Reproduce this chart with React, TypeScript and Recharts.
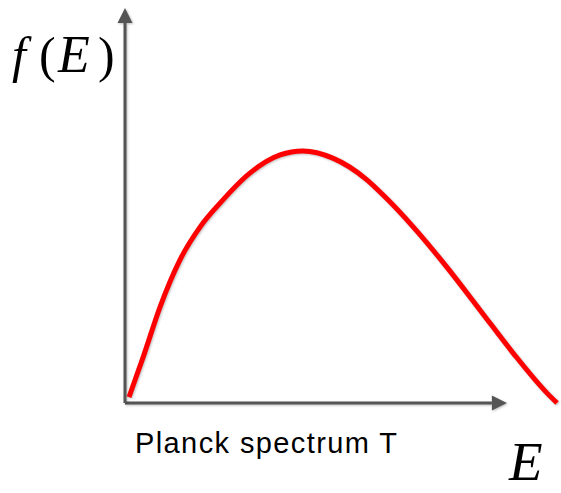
import React from "react";
import { LineChart, Line, XAxis, YAxis, ReferenceLine, Customized } from "recharts";

const energy = [0.93, 4.2, 8.1, 12.7, 17.4, 22.0, 28.9, 35.9, 41.2, 48.1, 56.0, 59.7, 66.7, 74.5, 82.2, 89.8, 97.7, 100];
const flux = [1.5, 11.6, 24.3, 36.2, 44.6, 50.6, 58.2, 62.8, 63.8, 62.0, 56.5, 52.7, 44.6, 34.4, 23.5, 12.7, 2.5, 0];
const xAxisEnd = 88.4;
const yAxisEnd = 100;
const yLabel = "f(E)";
const xLabel = "E";
const caption = "Planck spectrum T";

const data = energy.map((e, i) => ({ e, f: flux[i] }));

const AXIS_COLOR = "#555555";

const Arrow = (props: any) => {
  const { x1, y1, x2, y2 } = props;
  const dx = x2 - x1;
  const dy = y2 - y1;
  const len = Math.sqrt(dx * dx + dy * dy) || 1;
  const ux = dx / len;
  const uy = dy / len;
  const head = 15;
  const half = 7.5;
  const bx = x2 - ux * head;
  const by = y2 - uy * head;
  const px = -uy;
  const py = ux;
  return (
    <g style={{ filter: "drop-shadow(1px 1px 1px rgba(0,0,0,0.25))" }}>
      <line x1={x1} y1={y1} x2={bx} y2={by} stroke={AXIS_COLOR} strokeWidth={3} />
      <polygon
        points={`${x2},${y2} ${bx + px * half},${by + py * half} ${bx - px * half},${by - py * half}`}
        fill={AXIS_COLOR}
      />
    </g>
  );
};

const Labels = () => (
  <g>
    <text
      y={72}
      fontFamily="'Liberation Serif', serif"
      fontSize={50}
      fill="#000"
    >
      <tspan x={12} fontStyle="italic">{yLabel[0]}</tspan>
      <tspan x={39}>{yLabel[1]}</tspan>
      <tspan x={58} fontStyle="italic" fontSize={52}>{yLabel[2]}</tspan>
      <tspan x={98}>{yLabel[3]}</tspan>
    </text>
    <text
      x={509}
      y={480}
      fontFamily="'Liberation Serif', serif"
      fontStyle="italic"
      fontSize={55}
      fill="#000"
    >
      {xLabel}
    </text>
    <text
      x={135}
      y={453}
      fontFamily="'Liberation Sans', Arial, sans-serif"
      fontSize={29}
      fill="#000"
      textLength={262}
      lengthAdjust="spacing"
    >
      {caption}
    </text>
  </g>
);

export default function App() {
  return (
    <div style={{ position: "absolute", left: 0, top: 0, width: 561, height: 493, background: "#fff" }}>
      <LineChart width={561} height={493} data={data} margin={{ top: 8, right: 4, bottom: 90, left: 125 }}>
        <XAxis dataKey="e" type="number" domain={[0, 100]} hide />
        <YAxis type="number" domain={[0, 100]} hide />
        <ReferenceLine
          segment={[{ x: 0, y: 0 }, { x: xAxisEnd, y: 0 }]}
          shape={Arrow}
          ifOverflow="visible"
        />
        <ReferenceLine
          segment={[{ x: 0, y: 0 }, { x: 0, y: yAxisEnd }]}
          shape={Arrow}
          ifOverflow="visible"
        />
        <Line
          dataKey="f"
          type="monotone"
          stroke="#ff0000"
          strokeWidth={5}
          dot={false}
          isAnimationActive={false}
          style={{ filter: "drop-shadow(1px 1px 1px rgba(0,0,0,0.25))" }}
        />
        <Customized component={Labels} />
      </LineChart>
    </div>
  );
}
